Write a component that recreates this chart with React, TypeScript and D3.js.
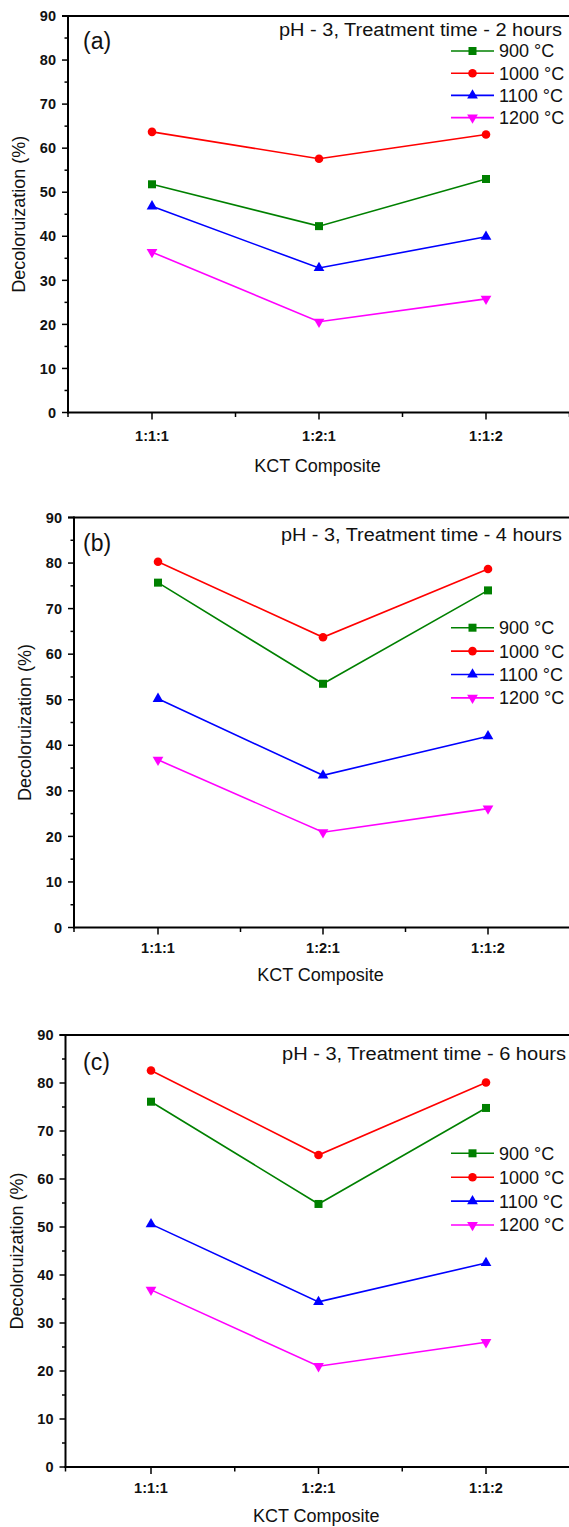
import React from "react";
import * as d3 from "d3";

const categories = ["1:1:1", "1:2:1", "1:1:2"];
const seriesNames = ["900 °C", "1000 °C", "1100 °C", "1200 °C"];
const seriesColors = ["#008000", "#FF0000", "#0000FF", "#FF00FF"];
const seriesShapes = ["square", "circle", "triangleUp", "triangleDown"];
const yTicks = [0, 10, 20, 30, 40, 50, 60, 70, 80, 90];

// values per panel: [900, 1000, 1100, 1200] x categories
const panelA = [
  [51.8, 42.3, 53.0],
  [63.7, 57.6, 63.1],
  [46.8, 32.8, 39.9],
  [36.4, 20.6, 25.8],
];
const panelB = [
  [75.7, 53.5, 74.0],
  [80.3, 63.7, 78.7],
  [50.2, 33.4, 42.0],
  [36.8, 20.9, 26.1],
];
const panelC = [
  [76.1, 54.8, 74.8],
  [82.6, 65.0, 80.1],
  [50.6, 34.4, 42.5],
  [36.9, 21.0, 26.0],
];
const panelLetters = ["(a)", "(b)", "(c)"];
const panelTitles = [
  "pH - 3, Treatment time - 2 hours",
  "pH - 3, Treatment time - 4 hours",
  "pH - 3, Treatment time - 6 hours",
];

const layouts = [
  { axisX: 68, c1: 152, sp: 167, yTop: 16, yZero: 412.5, titleY: 35.5, titleX: 279, titleW: 283, letterY: 48.5, legY: 51, legStep: 22.2, xTickY: 441, xTitleY: 472, yTitleX: 25 },
  { axisX: 74, c1: 158, sp: 165, yTop: 517.5, yZero: 927.5, titleY: 540.7, titleX: 281, titleW: 281, letterY: 550.5, legY: 627.7, legStep: 23.4, xTickY: 952.5, xTitleY: 981, yTitleX: 31 },
  { axisX: 65.5, c1: 151, sp: 167.5, yTop: 1035, yZero: 1467, titleY: 1059.5, titleX: 282, titleW: 284, letterY: 1070, legY: 1153.3, legStep: 23.9, xTickY: 1493, xTitleY: 1522, yTitleX: 23 },
];
const panelData = [panelA, panelB, panelC];

const FONT = "'Liberation Sans', Arial, sans-serif";

function Marker({ shape, x, y, color }: { shape: string; x: number; y: number; color: string }) {
  if (shape === "square") return <rect x={x - 4} y={y - 4} width={8} height={8} fill={color} />;
  if (shape === "circle") return <circle cx={x} cy={y} r={4.3} fill={color} />;
  const sym = d3.symbol().type(d3.symbolTriangle).size(50)();
  const rot = shape === "triangleDown" ? 180 : 0;
  return <path d={sym as string} transform={`translate(${x},${y}) rotate(${rot})`} fill={color} />;
}

function Panel({ idx }: { idx: number }) {
  const L = layouts[idx];
  const data = panelData[idx];
  const x = d3.scaleLinear().domain([1, 2]).range([L.c1, L.c1 + L.sp]);
  const y = d3.scaleLinear().domain([0, 90]).range([L.yZero, L.yTop]);
  const right = 569;
  const minorY = d3.range(5, 90, 10);
  const minorX = [0.5, 1.5, 2.5, 3.5];
  const line = d3.line<number>().x((_, i) => x(i + 1)).y((d) => y(d));
  return (
    <g>
      <line x1={L.axisX} x2={L.axisX} y1={L.yTop - 1} y2={L.yZero + 1} stroke="#000" strokeWidth={2} />
      <line x1={L.axisX - 6} x2={right} y1={L.yTop} y2={L.yTop} stroke="#000" strokeWidth={2} />
      <line x1={L.axisX - 1} x2={right} y1={L.yZero} y2={L.yZero} stroke="#000" strokeWidth={2} />
      {yTicks.map((t) => (
        <g key={"yt" + t}>
          <line x1={L.axisX - 6} x2={L.axisX} y1={y(t)} y2={y(t)} stroke="#000" strokeWidth={1.5} />
          <text x={L.axisX - 12} y={y(t)} dy="0.36em" textAnchor="end" fontFamily={FONT} fontWeight="bold" fontSize={14.5} fill="#111">
            {t}
          </text>
        </g>
      ))}
      {minorY.map((t) => (
        <line key={"ym" + t} x1={L.axisX - 3.5} x2={L.axisX} y1={y(t)} y2={y(t)} stroke="#000" strokeWidth={1.5} />
      ))}
      {categories.map((c, i) => (
        <g key={"xt" + c}>
          <line x1={x(i + 1)} x2={x(i + 1)} y1={L.yZero} y2={L.yZero + 7} stroke="#000" strokeWidth={1.5} />
          <text x={x(i + 1)} y={L.xTickY} textAnchor="middle" fontFamily={FONT} fontWeight="bold" fontSize={14.5} fill="#111">
            {c}
          </text>
        </g>
      ))}
      {minorX.map((m) => {
        const xx = m === 0.5 ? L.axisX : x(m);
        return <line key={"xm" + m} x1={xx} x2={xx} y1={L.yZero} y2={L.yZero + 4.5} stroke="#000" strokeWidth={1.5} />;
      })}
      <text x={(L.axisX + right) / 2 - 1} y={L.xTitleY} textAnchor="middle" fontFamily={FONT} fontSize={18} fill="#111">
        KCT Composite
      </text>
      <text
        transform={`translate(${L.yTitleX},${(L.yTop + L.yZero) / 2}) rotate(-90)`}
        textAnchor="middle"
        fontFamily={FONT}
        fontSize={18}
        fill="#111"
      >
        Decoloruization (%)
      </text>
      <text x={83} y={L.letterY} fontFamily={FONT} fontSize={23} fill="#111">
        {panelLetters[idx]}
      </text>
      <text x={L.titleX} y={L.titleY} textLength={L.titleW} lengthAdjust="spacingAndGlyphs" fontFamily={FONT} fontSize={18} fill="#111">
        {panelTitles[idx]}
      </text>
      {data.map((vals, s) => (
        <g key={"s" + s}>
          <path d={line(vals) as string} fill="none" stroke={seriesColors[s]} strokeWidth={1.6} />
          {vals.map((v, i) => (
            <Marker key={i} shape={seriesShapes[s]} x={x(i + 1)} y={y(v)} color={seriesColors[s]} />
          ))}
        </g>
      ))}
      {seriesNames.map((n, s) => {
        const ly = L.legY + s * L.legStep;
        return (
          <g key={"l" + s}>
            <line x1={451} x2={494} y1={ly} y2={ly} stroke={seriesColors[s]} strokeWidth={1.6} />
            <Marker shape={seriesShapes[s]} x={472.5} y={ly} color={seriesColors[s]} />
            <text x={499} y={ly} dy="0.36em" fontFamily={FONT} fontSize={18} fill="#111">
              {n}
            </text>
          </g>
        );
      })}
    </g>
  );
}

export default function App() {
  return (
    <svg
      width={569}
      height={1527}
      viewBox="0 0 569 1527"
      style={{ position: "absolute", left: 0, top: 0, background: "#fff" }}
    >
      <rect width={569} height={1527} fill="#fff" />
      {[0, 1, 2].map((i) => (
        <Panel key={i} idx={i} />
      ))}
    </svg>
  );
}
